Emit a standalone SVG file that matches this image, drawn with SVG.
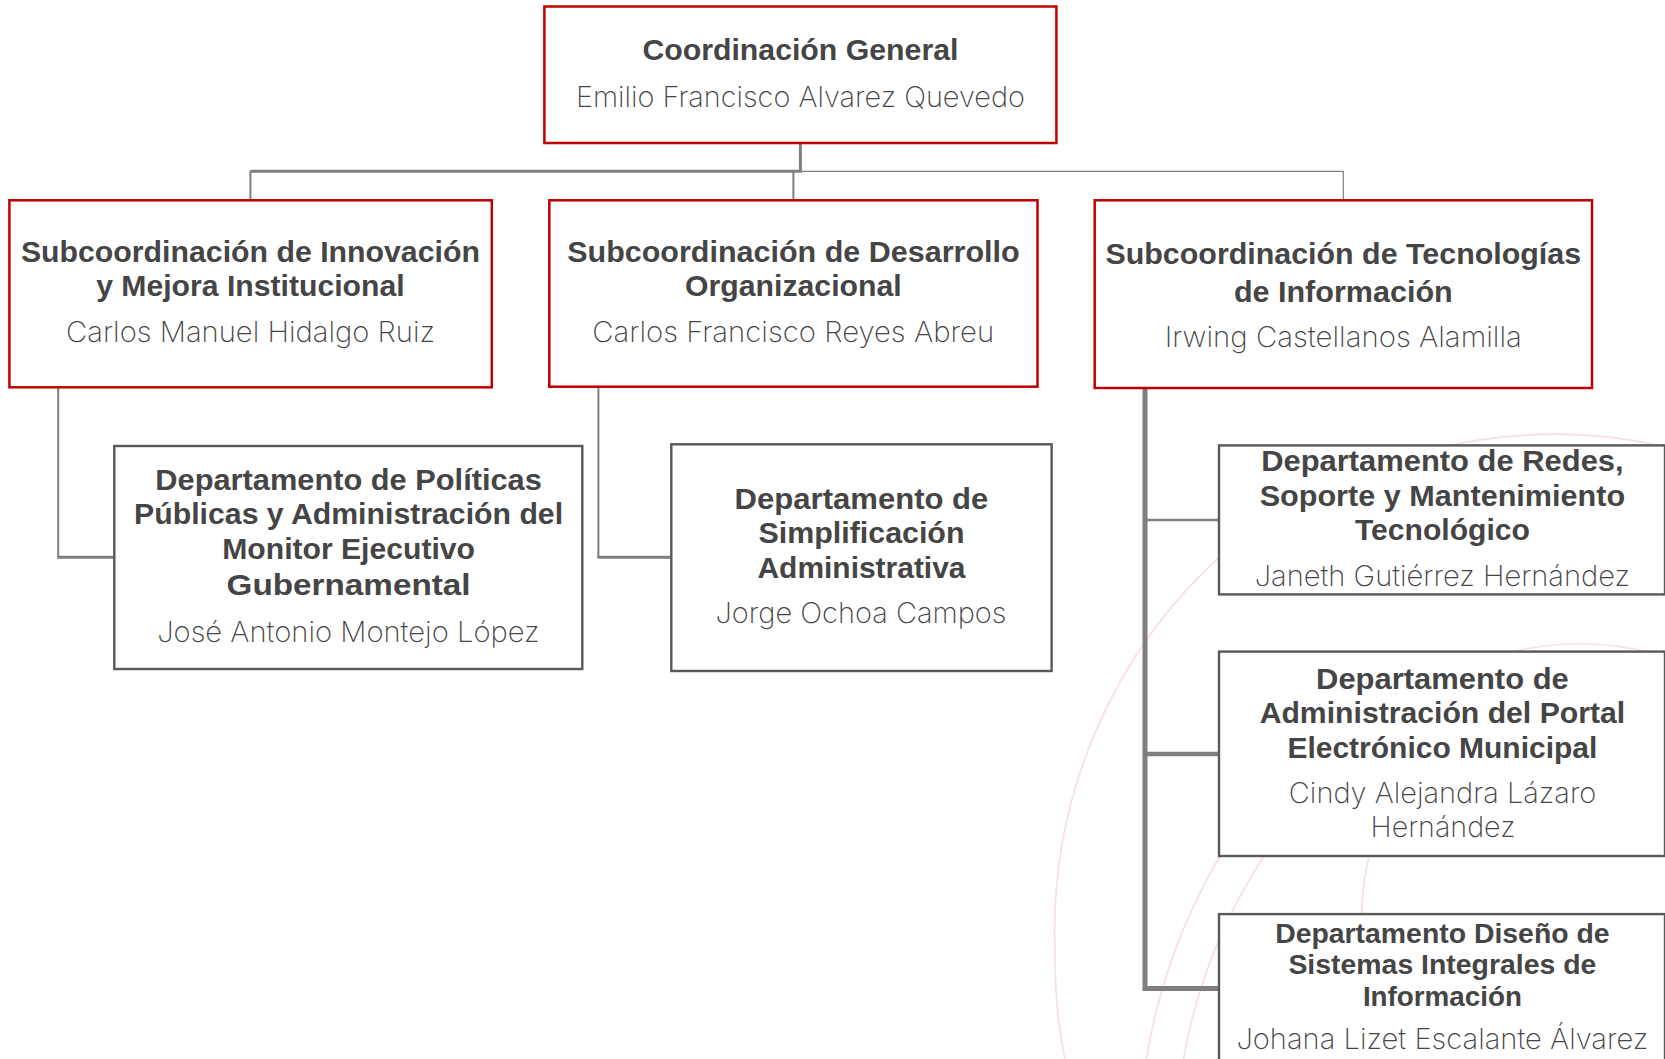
<svg xmlns="http://www.w3.org/2000/svg" width="1665" height="1059" viewBox="0 0 1665 1059">
<style>
.bg{fill:#fff}
.arc{fill:none;stroke:#f7e0e0;stroke-width:1.7}
.r{fill:#fff;stroke:#c00000;stroke-width:2.5}
.d{fill:#fff;stroke:#595959;stroke-width:2.4}
.c{fill:none;stroke:#7f7f7f;stroke-linejoin:miter}
text{text-anchor:middle;fill:#454545;font-family:Inter,"Liberation Sans",sans-serif}
.b{font-family:"Liberation Sans",Arial,sans-serif;font-weight:700;font-size:29.5px}
.s{font-family:"Liberation Sans",Arial,sans-serif;font-weight:700;font-size:27.5px}
.n{font-weight:200;font-size:28.5px}
</style>
<rect class="bg" width="1665" height="1059"/>
<g id="background-arcs">
<path class="arc" d="M1440,447.5 A507,507 0 0 1 1665,446.5"/>
<path class="arc" d="M1225,552 A507,507 0 0 0 1055,950 A507,507 0 0 0 1065.5,1062"/>
<path class="arc" d="M1500,655 A295,295 0 0 1 1660,655"/>
<path class="arc" d="M1225,848 A581,581 0 0 0 1146,1062"/>
<path class="arc" d="M1268,850 A545,545 0 0 0 1183,1062"/>
<path class="arc" d="M1372,845 A250,250 0 0 0 1362,925"/>
</g>
<g id="connectors">
<path class="c" stroke-width="3" d="M800.4,143V171.3H250.4"/>
<path class="c" stroke-width="2" d="M250.4,171V200"/>
<path class="c" stroke-width="2" d="M793.4,172V200"/>
<path class="c" stroke-width="1.2" d="M800.4,171.3H1343.3V200"/>
<path class="c" stroke-width="2" d="M58.2,387V557.3"/>
<path class="c" stroke-width="3" d="M57.2,557.3H114"/>
<path class="c" stroke-width="2" d="M598.4,387V557.3"/>
<path class="c" stroke-width="3" d="M597.4,557.3H671"/>
<path class="c" stroke-width="5" d="M1145,388V988.5H1219"/>
<path class="c" stroke-width="2.4" d="M1145,520H1219"/>
<path class="c" stroke-width="4.4" d="M1145,754H1219"/>
</g>
<g id="coordinacion-general">
<rect class="r" x="544.4" y="6.5" width="512" height="136.5"/>
<text class="b" x="800.4" y="60.4" textLength="316" lengthAdjust="spacingAndGlyphs">Coordinación General</text>
<text class="n" x="800.4" y="106.6" textLength="449" lengthAdjust="spacingAndGlyphs">Emilio Francisco Alvarez Quevedo</text>
</g>
<g id="sub-innovacion">
<rect class="r" x="9.4" y="200.3" width="482.4" height="187"/>
<text class="b" x="250.4" y="262.3" textLength="459" lengthAdjust="spacingAndGlyphs">Subcoordinación de Innovación</text>
<text class="b" x="250.4" y="296.3" textLength="308.5" lengthAdjust="spacingAndGlyphs">y Mejora Institucional</text>
<text class="n" x="250.6" y="342" textLength="369" lengthAdjust="spacingAndGlyphs">Carlos Manuel Hidalgo Ruiz</text>
</g>
<g id="sub-desarrollo">
<rect class="r" x="549.3" y="200.3" width="488.2" height="186.4"/>
<text class="b" x="793.4" y="262.3" textLength="452.4" lengthAdjust="spacingAndGlyphs">Subcoordinación de Desarrollo</text>
<text class="b" x="793.4" y="296.3" textLength="216.6" lengthAdjust="spacingAndGlyphs">Organizacional</text>
<text class="n" x="793.2" y="342" textLength="401.8" lengthAdjust="spacingAndGlyphs">Carlos Francisco Reyes Abreu</text>
</g>
<g id="sub-tecnologias">
<rect class="r" x="1094.7" y="200.3" width="497.3" height="187.7"/>
<text class="b" x="1343.3" y="263.6" textLength="475.7" lengthAdjust="spacingAndGlyphs">Subcoordinación de Tecnologías</text>
<text class="b" x="1343.3" y="301.5" textLength="218.8" lengthAdjust="spacingAndGlyphs">de Información</text>
<text class="n" x="1343.3" y="347" textLength="357" lengthAdjust="spacingAndGlyphs">Irwing Castellanos Alamilla</text>
</g>
<g id="dep-politicas">
<rect class="d" x="114.3" y="446" width="468" height="223"/>
<text class="b" x="348.6" y="490" textLength="386.5" lengthAdjust="spacingAndGlyphs">Departamento de Políticas</text>
<text class="b" x="348.6" y="524" textLength="429" lengthAdjust="spacingAndGlyphs">Públicas y Administración del</text>
<text class="b" x="348.6" y="559.3" textLength="252.7" lengthAdjust="spacingAndGlyphs">Monitor Ejecutivo</text>
<text class="b" x="348.6" y="594.5" textLength="244" lengthAdjust="spacingAndGlyphs">Gubernamental</text>
<text class="n" x="348.4" y="641.8" textLength="382.5" lengthAdjust="spacingAndGlyphs">José Antonio Montejo López</text>
</g>
<g id="dep-simplificacion">
<rect class="d" x="671.3" y="444.3" width="380.3" height="226.7"/>
<text class="b" x="861.5" y="509" textLength="253.8" lengthAdjust="spacingAndGlyphs">Departamento de</text>
<text class="b" x="861.5" y="543" textLength="206" lengthAdjust="spacingAndGlyphs">Simplificación</text>
<text class="b" x="861.5" y="578" textLength="208" lengthAdjust="spacingAndGlyphs">Administrativa</text>
<text class="n" x="861" y="622.8" textLength="291" lengthAdjust="spacingAndGlyphs">Jorge Ochoa Campos</text>
</g>
<g id="dep-redes">
<rect class="d" x="1219" y="445.4" width="446" height="149"/>
<text class="b" x="1442.4" y="471" textLength="362.5" lengthAdjust="spacingAndGlyphs">Departamento de Redes,</text>
<text class="b" x="1442.4" y="506.1" textLength="365.5" lengthAdjust="spacingAndGlyphs">Soporte y Mantenimiento</text>
<text class="b" x="1442.4" y="540.2" textLength="175" lengthAdjust="spacingAndGlyphs">Tecnológico</text>
<text class="n" x="1442.4" y="586" textLength="375.5" lengthAdjust="spacingAndGlyphs">Janeth Gutiérrez Hernández</text>
</g>
<g id="dep-portal">
<rect class="d" x="1219" y="651.6" width="446" height="204.4"/>
<text class="b" x="1442.4" y="688.9" textLength="252.7" lengthAdjust="spacingAndGlyphs">Departamento de</text>
<text class="b" x="1442.4" y="723" textLength="365.5" lengthAdjust="spacingAndGlyphs">Administración del Portal</text>
<text class="b" x="1442.4" y="758" textLength="310" lengthAdjust="spacingAndGlyphs">Electrónico Municipal</text>
<text class="n" x="1442.6" y="802.8" textLength="307.5" lengthAdjust="spacingAndGlyphs">Cindy Alejandra Lázaro</text>
<text class="n" x="1443" y="837.2" textLength="145" lengthAdjust="spacingAndGlyphs">Hernández</text>
</g>
<g id="dep-sistemas">
<rect class="d" x="1219" y="914.1" width="446" height="160"/>
<text class="s" x="1442.4" y="942.6" textLength="334.5" lengthAdjust="spacingAndGlyphs">Departamento Diseño de</text>
<text class="s" x="1442.4" y="973.8" textLength="308" lengthAdjust="spacingAndGlyphs">Sistemas Integrales de</text>
<text class="s" x="1442.4" y="1005.9" textLength="159" lengthAdjust="spacingAndGlyphs">Información</text>
<text class="n" x="1442.4" y="1048.8" textLength="412" lengthAdjust="spacingAndGlyphs">Johana Lizet Escalante Álvarez</text>
</g>
</svg>
